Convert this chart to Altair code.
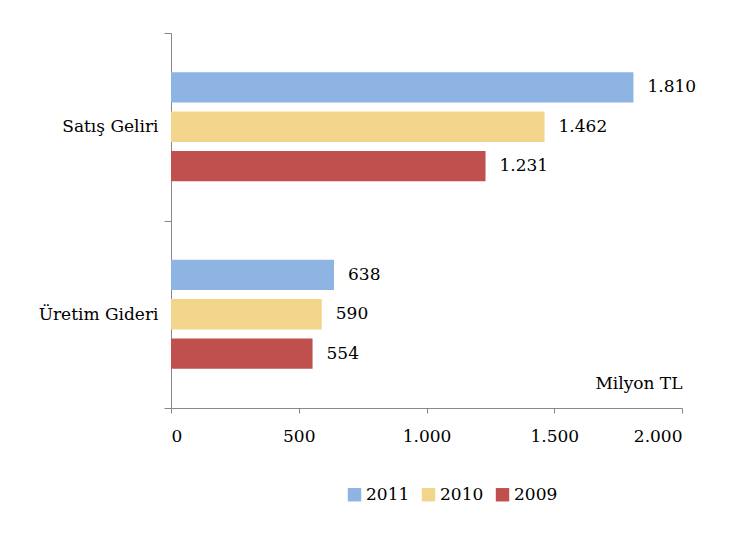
import altair as alt
import pandas as pd

categories = ["Satış Geliri", "Üretim Gideri"]
years = ["2011", "2010", "2009"]
values_2011 = [1810, 638]
values_2010 = [1462, 590]
values_2009 = [1231, 554]
colors = ["#8eb4e3", "#f2d58a", "#c0504d"]

rows = []
for i, c in enumerate(categories):
    for y, vals in zip(years, [values_2011, values_2010, values_2009]):
        rows.append({"Kategori": c, "Yıl": y, "Değer": vals[i]})
df = pd.DataFrame(rows)
df["Etiket"] = df["Değer"].map(lambda v: f"{v:,}".replace(",", "."))

FONT = "DejaVu Serif"
FS = 17

base = alt.Chart(df).encode(
    y=alt.Y("Kategori:N", sort=categories,
            scale=alt.Scale(paddingInner=0, paddingOuter=0),
            axis=alt.Axis(title=None, tickBand="extent", domainColor="#888888",
                          tickColor="#888888", tickSize=7, labelPadding=6,
                          labelFont=FONT, labelFontSize=FS, labelColor="#000000")),
    yOffset=alt.YOffset("Yıl:N", sort=years,
                        scale=alt.Scale(paddingInner=0.23, paddingOuter=1.0)),
)

bars = base.mark_bar().encode(
    x=alt.X("Değer:Q", scale=alt.Scale(domain=[0, 2000]),
            axis=alt.Axis(values=[0, 500, 1000, 1500, 2000],
                          labelExpr="replace(format(datum.value, ','), ',', '.')",
                          grid=False, domainColor="#888888", tickColor="#888888",
                          tickSize=5, labelPadding=15,
                          labelFont=FONT, labelFontSize=FS, labelColor="#000000",
                          title="Milyon TL", titleFont=FONT, titleFontSize=FS,
                          titleFontWeight="normal", titleAnchor="end", titleY=-33,
                          titleColor="#000000")),
    color=alt.Color("Yıl:N", sort=years,
                    scale=alt.Scale(domain=years, range=colors),
                    legend=alt.Legend(title=None, orient="none", direction="horizontal",
                                      legendX=175, legendY=453,
                                      symbolType="square", symbolSize=180,
                                      symbolStrokeWidth=0, labelFont=FONT,
                                      labelFontSize=FS, labelColor="#000000",
                                      labelOffset=3, columnPadding=10)),
)

labels = base.mark_text(align="left", dx=14, font=FONT, fontSize=FS, color="#000000").encode(
    x=alt.X("Değer:Q"),
    text="Etiket:N",
)

chart = alt.layer(bars, labels).properties(
    width=511, height=375,
    padding={"left": 30, "top": 16, "right": 5, "bottom": 5},
).configure(background="#ffffff", font=FONT).configure_view(stroke=None)

chart.save("out.html", embed_options={"renderer": "svg", "actions": False})
